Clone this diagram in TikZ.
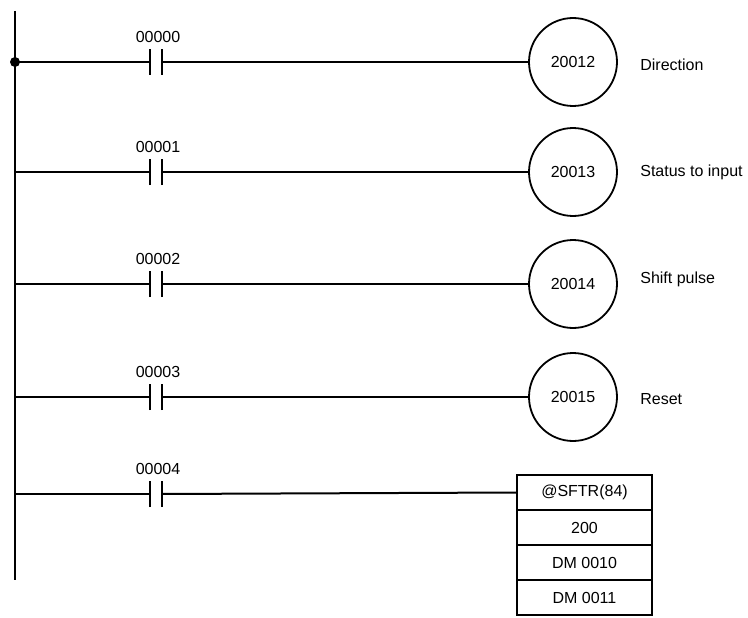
\documentclass[tikz,border=0pt]{standalone}
\usepackage{fontspec}
\setmainfont{Liberation Sans}
\begin{document}
\begin{tikzpicture}[x=1pt,y=-1pt,line width=2pt,
  every node/.style={font=\fontsize{16}{18}\selectfont},
  coil/.style={draw,circle,minimum size=88pt,inner sep=0pt,line width=1.8pt},
  cell/.style={draw,minimum width=135pt,minimum height=35pt,inner sep=0pt,line width=2pt},
  lbl/.style={anchor=west}]
\useasboundingbox (0,0) rectangle (748,618);
\coordinate (top) at (15,11);
\coordinate (bot) at (15,580);
\draw (top) -- (bot);
\fill (15,62) circle (5pt);
\foreach \y/\c/\n in {62/00000/a,172/00001/b,284/00002/c,397/00003/d,494/00004/e}{
  \coordinate (L\n) at (15,\y);
  \coordinate (C\n1) at (150,\y);
  \coordinate (C\n2) at (162,\y);
  \draw (L\n) -- (C\n1);
  \draw ([yshift=-13pt]C\n1) -- ([yshift=13pt]C\n1);
  \draw ([yshift=-13pt]C\n2) -- ([yshift=13pt]C\n2);
  \node (T\n) at (158,\y-25) {\c};
}
\foreach \y/\c/\t/\n in {62/20012/Direction/a,172/20013/Status to input/b,284/20014/Shift pulse/c,397/20015/Reset/d}{
  \node[coil] (K\n) at (573,\y) {\c};
  \draw (C\n2) -- (K\n.west);
}
\node[lbl] (La) at (636,65) {Direction};
\node[lbl] (Lb) at (636,172) {Status to input};
\node[lbl] (Lc) at (636,279) {Shift pulse};
\node[lbl] (Ld) at (636,399) {Reset};
\node[cell] (B1) at (584.5,492.5) {@SFTR(84)};
\node[cell] (B2) at (584.5,527.5) {200};
\node[cell] (B3) at (584.5,562.5) {DM 0010};
\node[cell] (B4) at (584.5,597.5) {DM 0011};
\draw (Ce2) -- (B1.west);
\end{tikzpicture}
\end{document}
